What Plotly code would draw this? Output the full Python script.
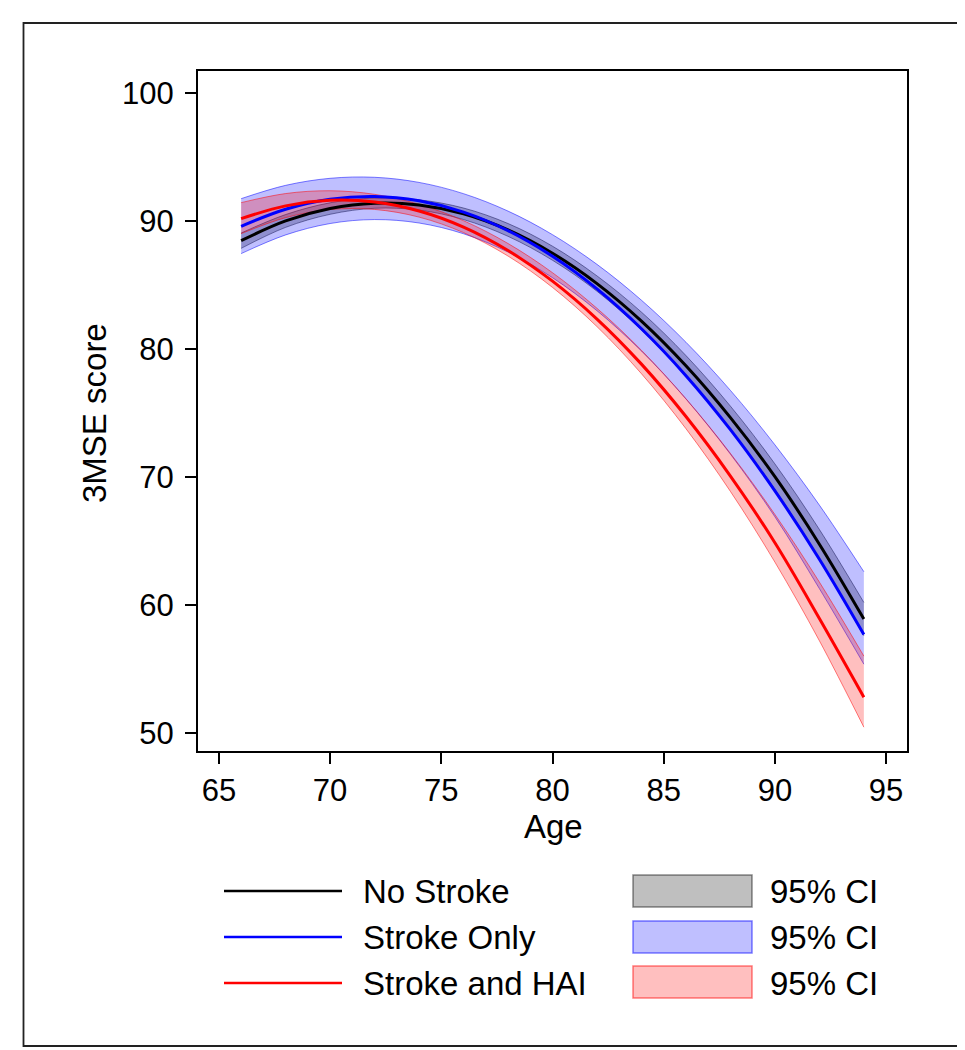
import plotly.graph_objects as go

age = [66, 68, 70, 72, 74, 76, 78, 80, 82, 84, 86, 88, 90, 92, 94]

no_stroke = [88.45, 89.99, 90.96, 91.38, 91.24, 90.55, 89.29, 87.47, 85.10, 82.17, 78.68, 74.63, 70.02, 64.75, 58.90]
no_stroke_hi = [89.05, 90.49, 91.41, 91.78, 91.64, 91.00, 89.79, 88.02, 85.70, 82.87, 79.48, 75.53, 71.02, 65.90, 60.20]
no_stroke_lo = [87.85, 89.49, 90.51, 90.98, 90.84, 90.10, 88.79, 86.92, 84.50, 81.47, 77.88, 73.73, 69.02, 63.60, 57.60]

stroke_only = [89.57, 90.90, 91.68, 91.90, 91.56, 90.68, 89.23, 87.23, 84.68, 81.57, 77.91, 73.69, 68.91, 63.58, 57.70]
stroke_only_hi = [91.73, 92.77, 93.32, 93.40, 93.00, 92.12, 90.76, 88.92, 86.60, 83.80, 80.52, 76.76, 72.51, 67.80, 62.60]
stroke_only_lo = [87.44, 88.90, 89.79, 90.10, 89.83, 88.99, 87.56, 85.56, 82.98, 79.83, 76.09, 71.78, 66.89, 61.28, 55.38]

stroke_hai = [90.17, 91.17, 91.60, 91.47, 90.77, 89.51, 87.68, 85.29, 82.33, 78.81, 74.72, 70.07, 64.86, 58.95, 52.80]
stroke_hai_hi = [91.42, 92.13, 92.35, 92.07, 91.29, 90.01, 88.23, 85.95, 83.17, 79.89, 76.11, 71.84, 67.07, 61.79, 56.01]
stroke_hai_lo = [89.00, 90.25, 90.88, 90.89, 90.29, 89.08, 87.25, 84.80, 81.74, 78.06, 73.77, 68.87, 63.35, 57.21, 50.46]

x_ticks = [65, 70, 75, 80, 85, 90, 95]
y_ticks = [50, 60, 70, 80, 90, 100]

series_names = ["No Stroke", "Stroke Only", "Stroke and HAI"]
ci_label = "95% CI"

line_colors = ["#000000", "#0000ff", "#ff0000"]
fill_colors = ["rgba(0,0,0,0.25)", "rgba(0,0,255,0.25)", "rgba(255,0,0,0.25)"]
edge_colors = ["rgba(0,0,0,0.45)", "rgba(0,0,255,0.5)", "rgba(255,0,0,0.5)"]

FONT = "Liberation Sans, Arial, Helvetica, sans-serif"
TICK_SIZE = 31
TEXT_SIZE = 33

fig = go.Figure()

mids = [no_stroke, stroke_only, stroke_hai]
his = [no_stroke_hi, stroke_only_hi, stroke_hai_hi]
los = [no_stroke_lo, stroke_only_lo, stroke_hai_lo]

for i in range(3):
    fig.add_trace(go.Scatter(x=age, y=his[i], mode="lines", line=dict(color=edge_colors[i], width=1, shape="spline"),
                             showlegend=False, hoverinfo="skip"))
    fig.add_trace(go.Scatter(x=age, y=los[i], mode="lines", line=dict(color=edge_colors[i], width=1, shape="spline"),
                             fill="tonexty", fillcolor=fill_colors[i], showlegend=False, hoverinfo="skip"))

for i in range(3):
    fig.add_trace(go.Scatter(x=age, y=mids[i], mode="lines", name=series_names[i],
                             line=dict(color=line_colors[i], width=3, shape="spline"), showlegend=False))

# plot area in pixels
L, R, T, B = 190, 899, 63, 743
W, H = R - L, B - T

def px(xp):
    return (xp - L) / W

def py(yp):
    return (B - yp) / H

shapes = []
annotations = []

# outer frame
shapes.append(dict(type="rect", xref="paper", yref="paper", x0=px(15.5), x1=px(953), y0=py(1038), y1=py(15),
                   line=dict(color="#222222", width=1.8), fillcolor="rgba(0,0,0,0)", layer="below"))

# legend
row_y = [883, 929, 975]
box_y = [(867, 899), (913, 945), (958, 990)]
for i in range(3):
    shapes.append(dict(type="line", xref="paper", yref="paper", x0=px(216), x1=px(334), y0=py(row_y[i]), y1=py(row_y[i]),
                       line=dict(color=line_colors[i], width=2.6)))
    annotations.append(dict(xref="paper", yref="paper", x=px(353), y=py(row_y[i]), text=series_names[i],
                            showarrow=False, xanchor="left", yanchor="middle",
                            font=dict(family=FONT, size=TEXT_SIZE, color="#000000")))
    shapes.append(dict(type="rect", xref="paper", yref="paper", x0=px(625), x1=px(744),
                       y0=py(box_y[i][1]), y1=py(box_y[i][0]),
                       line=dict(color=edge_colors[i], width=1.5), fillcolor=fill_colors[i]))
    annotations.append(dict(xref="paper", yref="paper", x=px(760), y=py(row_y[i]), text=ci_label,
                            showarrow=False, xanchor="left", yanchor="middle",
                            font=dict(family=FONT, size=TEXT_SIZE, color="#000000")))

# axis titles
annotations.append(dict(xref="paper", yref="paper", x=px(545), y=py(818), text="Age", showarrow=False,
                        xanchor="center", yanchor="middle", font=dict(family=FONT, size=TEXT_SIZE, color="#000000")))
annotations.append(dict(xref="paper", yref="paper", x=px(86), y=py(405), text="3MSE score", showarrow=False,
                        textangle=-90, xanchor="center", yanchor="middle",
                        font=dict(family=FONT, size=TEXT_SIZE, color="#000000")))

fig.update_layout(
    width=965, height=1050,
    margin=dict(l=L, r=965 - R, t=T, b=1050 - B),
    paper_bgcolor="white", plot_bgcolor="white",
    font=dict(family=FONT, size=TICK_SIZE, color="#000000"),
    shapes=shapes, annotations=annotations,
    showlegend=False,
)
fig.update_xaxes(range=[64.06, 95.94], tickvals=x_ticks, ticktext=[str(v) for v in x_ticks],
                 showgrid=False, zeroline=False, showline=True, linecolor="#000000", linewidth=2,
                 mirror=True, ticks="outside", ticklen=11, tickwidth=1.5, tickcolor="#000000",
                 tickfont=dict(family=FONT, size=TICK_SIZE, color="#000000"))
fig.update_yaxes(range=[48.6, 101.7], tickvals=y_ticks, ticktext=[str(v) for v in y_ticks],
                 showgrid=False, zeroline=False, showline=True, linecolor="#000000", linewidth=2,
                 mirror=True, ticks="outside", ticklen=11, tickwidth=1.5, tickcolor="#000000",
                 ticklabelstandoff=5,
                 tickfont=dict(family=FONT, size=TICK_SIZE, color="#000000"))

fig.write_html("out.html")
